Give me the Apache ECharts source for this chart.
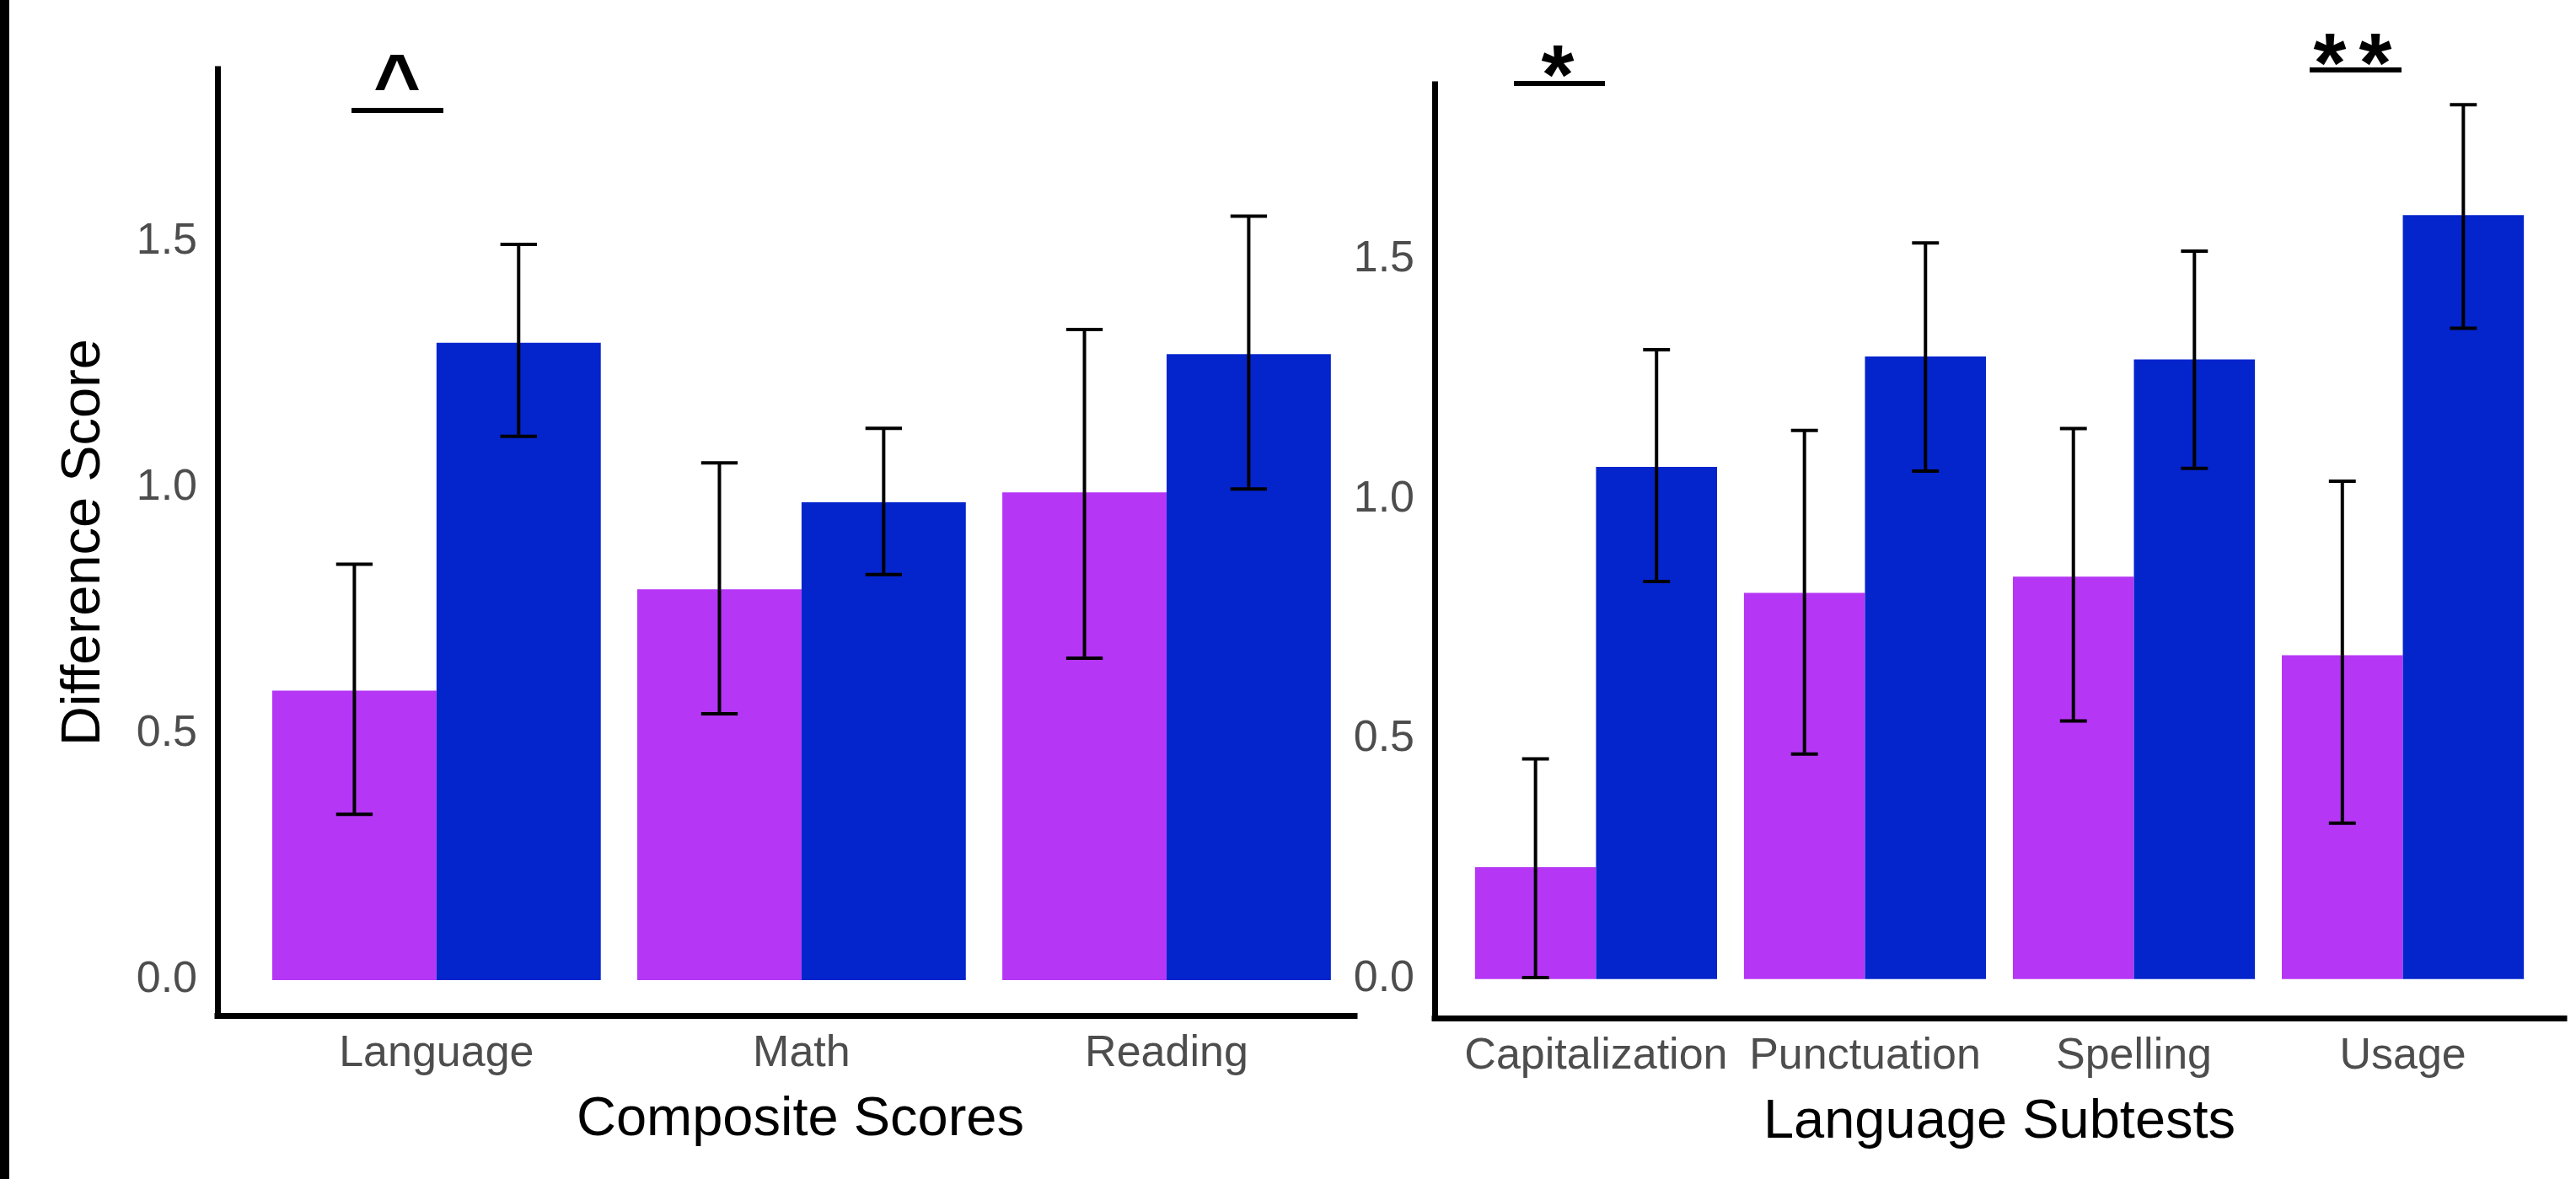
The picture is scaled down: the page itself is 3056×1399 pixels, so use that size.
<!DOCTYPE html>
<html>
<head>
<meta charset="utf-8">
<script src="https://cdn.jsdelivr.net/npm/echarts@6/dist/echarts.min.js"></script>
<style>
  html, body { margin: 0; padding: 0; background: #ffffff; }
  #chart { width: 3056px; height: 1399px; }
</style>
</head>
<body>
<div id="chart"></div>
<script>
// ---- Data ----
const compositeCats = ['Language', 'Math', 'Reading'];
const compositeGroupA = [0.588, 0.794, 0.991];        // purple bars
const compositeGroupALow = [0.337, 0.541, 0.654];
const compositeGroupAHigh = [0.845, 1.051, 1.322];
const compositeGroupB = [1.295, 0.971, 1.272];        // blue bars
const compositeGroupBLow = [1.105, 0.824, 0.998];
const compositeGroupBHigh = [1.495, 1.121, 1.552];

const subtestCats = ['Capitalization', 'Punctuation', 'Spelling', 'Usage'];
const subtestGroupA = [0.233, 0.805, 0.839, 0.675];
const subtestGroupALow = [0.003, 0.469, 0.538, 0.325];
const subtestGroupAHigh = [0.459, 1.144, 1.148, 1.038];
const subtestGroupB = [1.068, 1.298, 1.292, 1.593];
const subtestGroupBLow = [0.829, 1.059, 1.065, 1.357];
const subtestGroupBHigh = [1.312, 1.535, 1.518, 1.823];

const yTicks = [0, 0.5, 1.0, 1.5];

// ---- Styles ----
const PURPLE = '#b536f5';
const BLUE = '#0424cc';
const FONT = '"Liberation Sans", Arial, sans-serif';
const TICK_COLOR = '#4d4d4d';

function buildData(a, aLo, aHi, b, bLo, bHi) {
  const out = [];
  for (let i = 0; i < a.length; i++) {
    out.push([i + 1, 0, a[i], aLo[i], aHi[i]]);
    out.push([i + 1, 1, b[i], bLo[i], bHi[i]]);
  }
  return out;
}
const compositeData = buildData(compositeGroupA, compositeGroupALow, compositeGroupAHigh,
                                compositeGroupB, compositeGroupBLow, compositeGroupBHigh);
const subtestData = buildData(subtestGroupA, subtestGroupALow, subtestGroupAHigh,
                              subtestGroupB, subtestGroupBLow, subtestGroupBHigh);

const DODGE = 0.45;   // width of each bar in category units
const CAP = 0.05;     // half width of error bar caps

function renderBar(params, api) {
  const cat = api.value(0), g = api.value(1), v = api.value(2);
  const x0 = cat - DODGE + g * DODGE;
  const p0 = api.coord([x0, v]);
  const p1 = api.coord([x0 + DODGE, 0]);
  return {
    type: 'rect',
    shape: { x: p0[0], y: p0[1], width: p1[0] - p0[0], height: p1[1] - p0[1] },
    style: { fill: g === 0 ? PURPLE : BLUE }
  };
}
function renderErr(params, api) {
  const cat = api.value(0), g = api.value(1), lo = api.value(3), hi = api.value(4);
  const xc = cat - DODGE / 2 + g * DODGE;
  const top = api.coord([xc, hi]);
  const bot = api.coord([xc, lo]);
  const l = api.coord([xc - CAP, hi])[0];
  const r = api.coord([xc + CAP, hi])[0];
  const st = { stroke: '#000', lineWidth: 4 };
  return {
    type: 'group',
    children: [
      { type: 'line', shape: { x1: top[0], y1: top[1], x2: bot[0], y2: bot[1] }, style: st },
      { type: 'line', shape: { x1: l, y1: top[1], x2: r, y2: top[1] }, style: st },
      { type: 'line', shape: { x1: l, y1: bot[1], x2: r, y2: bot[1] }, style: st }
    ]
  };
}

const axisLineStyle = { show: true, onZero: false, lineStyle: { color: '#000', width: 7, cap: 'square' } };

const chart = echarts.init(document.getElementById('chart'), null, { renderer: 'canvas' });
chart.setOption({
  backgroundColor: '#ffffff',
  animation: false,
  grid: [
    { left: 258, top: 82, width: 1349, height: 1123 },
    { left: 1702, top: 100, width: 1340, height: 1108 }
  ],
  xAxis: [
    {
      type: 'value', gridIndex: 0, min: 0.4, max: 3.515,
      axisLine: axisLineStyle, axisTick: { show: false }, splitLine: { show: false },
      axisLabel: {
        customValues: [1, 2, 3],
        formatter: v => compositeCats[Math.round(v) - 1] || '',
        fontSize: 52, color: TICK_COLOR, margin: 20, fontFamily: FONT
      },
      name: 'Composite Scores', nameLocation: 'middle', nameGap: 92,
      nameTextStyle: { fontSize: 65, color: '#000', fontFamily: FONT, padding: [0, 0, 0, 34] }
    },
    {
      type: 'value', gridIndex: 1, min: 0.4, max: 4.6,
      axisLine: axisLineStyle, axisTick: { show: false }, splitLine: { show: false },
      axisLabel: {
        customValues: [1, 2, 3, 4],
        formatter: v => subtestCats[Math.round(v) - 1] || '',
        fontSize: 52, color: TICK_COLOR, margin: 20, fontFamily: FONT
      },
      name: 'Language Subtests', nameLocation: 'middle', nameGap: 92,
      nameTextStyle: { fontSize: 65, color: '#000', fontFamily: FONT }
    }
  ],
  yAxis: [
    {
      type: 'value', gridIndex: 0, min: -0.0719, max: 1.851,
      axisLine: axisLineStyle, axisTick: { show: false }, splitLine: { show: false },
      axisLabel: {
        customValues: yTicks, formatter: v => v.toFixed(1),
        fontSize: 52, color: TICK_COLOR, margin: 24, fontFamily: FONT
      },
      name: 'Difference Score', nameLocation: 'middle', nameGap: 125, nameRotate: 90,
      nameTextStyle: { fontSize: 65, color: '#000', fontFamily: FONT }
    },
    {
      type: 'value', gridIndex: 1, min: -0.0815, max: 1.8658,
      axisLine: axisLineStyle, axisTick: { show: false }, splitLine: { show: false },
      axisLabel: {
        customValues: yTicks, formatter: v => v.toFixed(1),
        fontSize: 52, color: TICK_COLOR, margin: 24, fontFamily: FONT
      }
    }
  ],
  series: [
    { type: 'custom', xAxisIndex: 0, yAxisIndex: 0, data: compositeData, encode: { x: 0, y: 2 }, renderItem: renderBar, z: 2 },
    { type: 'custom', xAxisIndex: 0, yAxisIndex: 0, data: compositeData, encode: { x: 0, y: 4 }, renderItem: renderErr, z: 3 },
    { type: 'custom', xAxisIndex: 1, yAxisIndex: 1, data: subtestData, encode: { x: 0, y: 2 }, renderItem: renderBar, z: 2 },
    { type: 'custom', xAxisIndex: 1, yAxisIndex: 1, data: subtestData, encode: { x: 0, y: 4 }, renderItem: renderErr, z: 3 }
  ],
  graphic: [
    { type: 'rect', shape: { x: 0, y: 0, width: 11, height: 1399 }, style: { fill: '#000' } },
    { type: 'line', shape: { x1: 417, y1: 131, x2: 526, y2: 131 }, style: { stroke: '#000', lineWidth: 6 } },
    { type: 'text', x: 471, y: 105, style: { text: '^', font: 'bold 96px ' + FONT, fill: '#000', textAlign: 'center', textVerticalAlign: 'middle' } },
    { type: 'line', shape: { x1: 1796, y1: 99, x2: 1904, y2: 99 }, style: { stroke: '#000', lineWidth: 6 } },
    { type: 'text', x: 1848, y: 95, style: { text: '*', font: 'bold 100px ' + FONT, fill: '#000', textAlign: 'center', textVerticalAlign: 'middle' } },
    { type: 'line', shape: { x1: 2740, y1: 83, x2: 2849, y2: 83 }, style: { stroke: '#000', lineWidth: 6 } },
    { type: 'text', x: 2764, y: 81, style: { text: '*', font: 'bold 100px ' + FONT, fill: '#000', textAlign: 'center', textVerticalAlign: 'middle' } },
    { type: 'text', x: 2818, y: 81, style: { text: '*', font: 'bold 100px ' + FONT, fill: '#000', textAlign: 'center', textVerticalAlign: 'middle' } }
  ]
});
</script>
</body>
</html>
